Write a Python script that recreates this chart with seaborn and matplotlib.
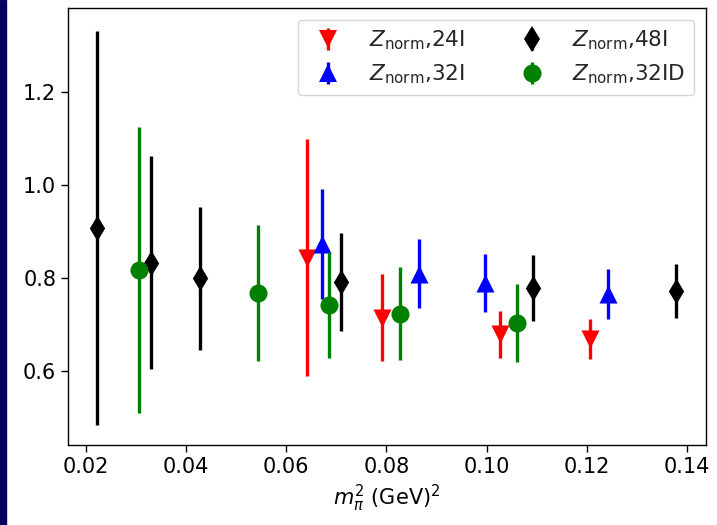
import numpy as np
import pandas as pd
import seaborn as sns
import matplotlib
matplotlib.use("Agg")
import matplotlib.pyplot as plt
from matplotlib.lines import Line2D
from matplotlib.patches import Rectangle
from matplotlib.legend_handler import HandlerTuple

# ---- data ----
x_24I = [0.0641, 0.0791, 0.1027, 0.1206]
y_24I = [0.844, 0.715, 0.679, 0.669]
e_24I = [0.255, 0.094, 0.051, 0.043]

x_32I = [0.0671, 0.0865, 0.0997, 0.1242]
y_32I = [0.873, 0.810, 0.790, 0.766]
e_32I = [0.118, 0.075, 0.062, 0.053]

x_48I = [0.0222, 0.0330, 0.0428, 0.0709, 0.1093, 0.1378]
y_48I = [0.908, 0.833, 0.800, 0.792, 0.778, 0.772]
e_48I = [0.423, 0.229, 0.154, 0.106, 0.071, 0.058]

x_32ID = [0.0306, 0.0543, 0.0685, 0.0827, 0.1060]
y_32ID = [0.818, 0.768, 0.742, 0.724, 0.703]
e_32ID = [0.307, 0.147, 0.114, 0.100, 0.084]

labels = [r"$Z_{\rm norm}$,24I", r"$Z_{\rm norm}$,32I",
          r"$Z_{\rm norm}$,48I", r"$Z_{\rm norm}$,32ID"]
x_ticks = [0.02, 0.04, 0.06, 0.08, 0.10, 0.12, 0.14]
y_ticks = [0.6, 0.8, 1.0, 1.2]

series = [
    (x_24I, y_24I, e_24I, "red", "v", labels[0]),
    (x_32I, y_32I, e_32I, "blue", "^", labels[1]),
    (x_48I, y_48I, e_48I, "black", "d", labels[2]),
    (x_32ID, y_32ID, e_32ID, "green", "o", labels[3]),
]

sns.set_theme(style="ticks", rc={"axes.grid": False})
plt.rcParams["font.family"] = ["DejaVu Sans"]
plt.rcParams["font.size"] = 15
plt.rcParams["mathtext.fontset"] = "dejavusans"

fig = plt.figure(figsize=(7.17, 5.25), dpi=100)
ax = fig.add_axes([0.0948, 0.152, 0.8899, 0.833])

MS = 13
handles = []
for i, (xs, ys, es, c, m, lab) in enumerate(series):
    eb = ax.errorbar(xs, ys, yerr=es, fmt="none", ecolor=c, elinewidth=2.4,
                     zorder=2 + i)
    df = pd.DataFrame({"x": xs, "y": ys})
    sns.scatterplot(data=df, x="x", y="y", marker=m, color=c, s=MS ** 2,
                    linewidth=0, ax=ax, zorder=2.5 + i, legend=False)
    mk = Line2D([], [], marker=m, color=c, ls="", markersize=MS,
                markeredgewidth=0)
    handles.append((eb, mk))

ax.set_xlim(0.0164, 0.1438)
ax.set_ylim(0.441, 1.381)
ax.set_xticks(x_ticks)
ax.set_xticklabels([f"{t:.2f}" for t in x_ticks])
ax.set_yticks(y_ticks)
ax.set_yticklabels([f"{t:.1f}" for t in y_ticks])
ax.tick_params(labelsize=15, direction="out", length=5, width=1, colors="black")
for s in ax.spines.values():
    s.set_visible(True)
    s.set_color("black")
    s.set_linewidth(1.0)
ax.set_xlabel(r"$m_\pi^2$ (GeV)$^2$", fontsize=15, color="black")
ax.set_ylabel("")

ax.legend(handles, labels, ncol=2, loc="upper right", fontsize=15.5,
          handler_map={tuple: HandlerTuple(ndivide=1)},
          frameon=True, framealpha=0.8, edgecolor="#cccccc",
          borderaxespad=0.55, handlelength=2.0,
          columnspacing=2.1, handletextpad=0.9)

fig.patches.append(Rectangle((0, 0), 6 / 717, 1, transform=fig.transFigure,
                             color="#02025e", zorder=10))

fig.savefig("out.png", dpi=100)
